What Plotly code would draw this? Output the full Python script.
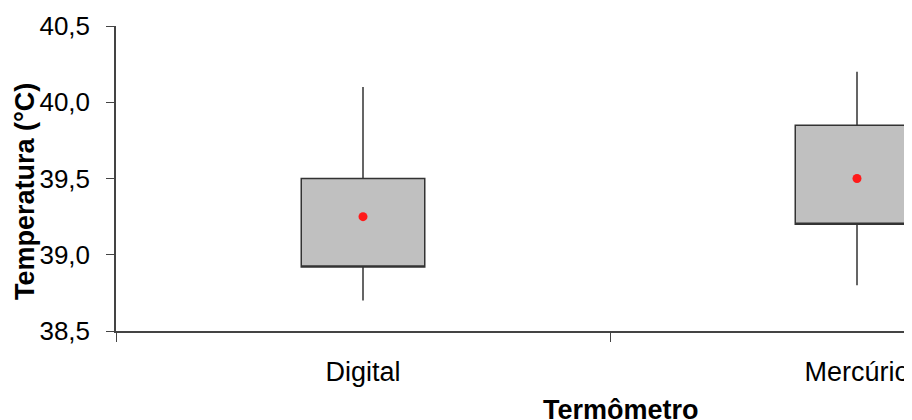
import plotly.graph_objects as go

categories = ["Digital", "Mercúrio"]
q1_vals = [38.92, 39.20]
q3_vals = [39.50, 39.85]
lower_whisker = [38.70, 38.80]
upper_whisker = [40.10, 40.20]
mean_vals = [39.25, 39.50]
y_ticks = [38.5, 39.0, 39.5, 40.0, 40.5]

FONT = "Liberation Sans, Arial, sans-serif"
AXIS_COLOR = "#444444"

# the page body adds an 8px margin, so the figure is laid out 8px up/left
OFF = 8
W, H = 912 - OFF, 420 - OFF
L, T = 116 - OFF, 26 - OFF
PLOT_BOTTOM = 331 - OFF
R, B = 0, H - PLOT_BOTTOM
pw, ph = W - L - R, H - T - B

fig = go.Figure()
fig.add_trace(go.Box(
    x=categories,
    q1=q1_vals,
    median=q1_vals,
    q3=q3_vals,
    lowerfence=lower_whisker,
    upperfence=upper_whisker,
    fillcolor="#C0C0C0",
    line=dict(color="#333333", width=1.5),
    whiskerwidth=0,
    width=0.25,
    boxpoints=False,
    hoverinfo="skip",
    showlegend=False,
))
fig.add_trace(go.Scatter(
    x=categories,
    y=mean_vals,
    mode="markers",
    marker=dict(color="#FF1A1A", size=9),
    showlegend=False,
))

fig.update_layout(
    width=W, height=H,
    margin=dict(l=L, r=R, t=T, b=B),
    paper_bgcolor="white",
    plot_bgcolor="white",
    separators=",.",
    font=dict(family=FONT, size=27, color="black"),
    showlegend=False,
)
fig.update_xaxes(
    type="category",
    categoryorder="array",
    categoryarray=categories,
    range=[-0.5, -0.5 + (912 - 116) / 494.0],
    tickson="boundaries",
    ticks="outside",
    ticklen=9,
    tickwidth=1.2,
    tickcolor=AXIS_COLOR,
    showline=True,
    linecolor=AXIS_COLOR,
    linewidth=1.5,
    showgrid=False,
    zeroline=False,
    tickfont=dict(family=FONT, size=27, color="black"),
    ticklabelstandoff=16,
)
fig.update_yaxes(
    range=[38.5, 40.5],
    tickvals=y_ticks,
    tickformat=".1f",
    ticks="outside",
    ticklen=8,
    tickwidth=1.2,
    tickcolor=AXIS_COLOR,
    showline=True,
    linecolor=AXIS_COLOR,
    linewidth=1.5,
    showgrid=False,
    zeroline=False,
    tickfont=dict(family=FONT, size=26, color="black"),
    ticklabelstandoff=11,
)

# axis titles (positions given in reference screen pixels)
fig.add_annotation(
    text="<b>Temperatura (°C)</b>",
    xref="paper", yref="paper",
    x=(25 - 116) / pw, y=(331 - 192) / ph,
    xanchor="center", yanchor="middle",
    textangle=-90, showarrow=False,
    font=dict(family=FONT, size=27, color="black"),
)
fig.add_annotation(
    text="<b>Termômetro</b>",
    xref="paper", yref="paper",
    x=(621 - 116) / pw, y=(331 - 410) / ph,
    xanchor="center", yanchor="middle",
    showarrow=False,
    font=dict(family=FONT, size=27, color="black"),
)

fig.write_html(
    "out.html",
    post_script="document.documentElement.style.overflow='hidden';"
                "document.body.style.overflow='hidden';",
)
